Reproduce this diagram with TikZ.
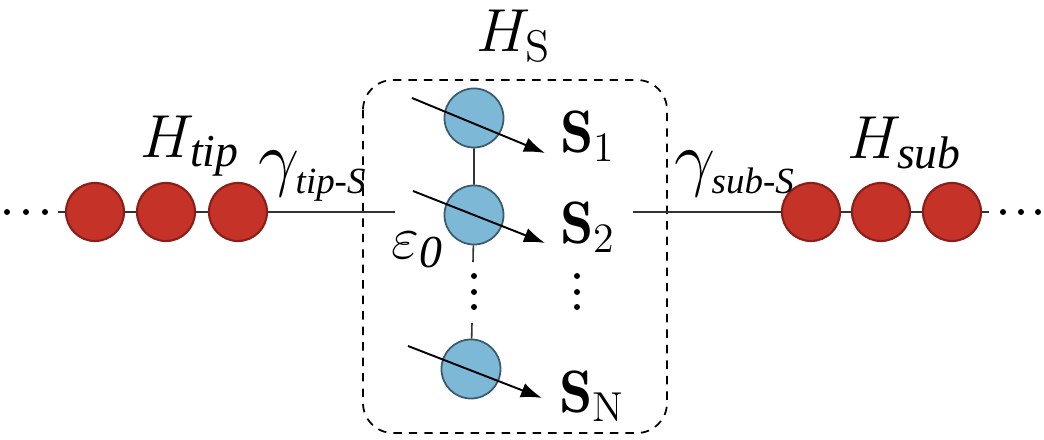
\documentclass[tikz,border=0pt]{standalone}
\usepackage{amsmath,amssymb}
\usepackage{fontspec}
\usepackage{tikz}
\usetikzlibrary{arrows.meta}
\newfontfamily\subfont{Liberation Serif}
\definecolor{siteRed}{RGB}{196,50,40}
\definecolor{siteRedEdge}{RGB}{140,30,25}
\definecolor{spinBlue}{RGB}{125,185,215}
\definecolor{spinBlueEdge}{RGB}{60,90,110}
% italic text subscript at a fixed size
\newcommand{\subtxt}[2]{\text{\fontsize{#1}{#1}\subfont\itshape #2}}

\begin{document}
\begin{tikzpicture}[x=0.01cm, y=-0.01cm,
  redsite/.style={circle, draw=siteRedEdge, fill=siteRed, line width=0.6pt,
    minimum size=0.58cm, inner sep=0pt},
  bluesite/.style={circle, draw=spinBlueEdge, fill=spinBlue, line width=0.5pt,
    minimum size=0.59cm, inner sep=0pt},
  spinarrow/.style={-{Latex[length=2.1mm,width=1.5mm]}, line width=0.55pt},
  bond/.style={line width=0.45pt, black!80},
  bigmath/.style={font=\fontsize{18}{20}\selectfont, inner sep=0pt},
  gammalab/.style={font=\fontsize{21}{23}\selectfont, inner sep=0pt},
  spinlab/.style={font=\fontsize{17}{19}\selectfont}]
  % frame of the picture
  \useasboundingbox (0,0) rectangle (1044,440);

  % Spin region (dashed box)
  \draw[dash pattern=on 2.4pt off 2pt, line width=0.5pt, rounded corners=0.3cm]
    (363,80) rectangle (667,433);
  \node[bigmath] (HS) at (514,36) {$H_{\mathrm{S}}$};

  % Tip chain
  \node[redsite] (t1) at (95,212) {};
  \node[redsite] (t2) at (166,212) {};
  \node[redsite] (t3) at (238,212) {};
  \coordinate (tend) at (58,212);
  \coordinate (tbond) at (395,212);
  \foreach \x [count=\i] in {7,26,45} {
    \fill (\x,212) circle (0.03cm) coordinate (tdot\i);
  }
  \draw[bond] (tend) -- (t1) -- (t2) -- (t3) -- (tbond);
  \node[bigmath, anchor=west] (Htip) at (140,146) {$H_{\subtxt{13}{tip}}$};
  \node[gammalab, anchor=west] (gtip) at (258,176) {$\gamma_{\subtxt{10.5}{tip-S}}$};

  % Substrate chain
  \node[redsite] (b1) at (811,212) {};
  \node[redsite] (b2) at (881,212) {};
  \node[redsite] (b3) at (952,212) {};
  \coordinate (bbond) at (633,212);
  \coordinate (bend) at (989,212);
  \foreach \x [count=\i] in {1003,1021,1038} {
    \fill (\x,212) circle (0.03cm) coordinate (bdot\i);
  }
  \draw[bond] (bbond) -- (b1) -- (b2) -- (b3) -- (bend);
  \node[bigmath, anchor=west] (Hsub) at (847,143) {$H_{\subtxt{13}{sub}}$};
  \node[gammalab, anchor=west] (gsub) at (674,174) {$\gamma_{\subtxt{10.5}{sub-S}}$};

  % Spins
  \node[bluesite] (s1) at (474,118) {};
  \node[bluesite] (s2) at (474,215) {};
  \node[bluesite] (sN) at (471,369) {};
  \coordinate (vtop) at (473,262);
  \coordinate (vbot) at (472,323);
  \draw[bond] (s1) -- (s2) -- (vtop);
  \draw[bond] (vbot) -- (sN);
  \foreach \y [count=\i] in {276,292,307} {
    \fill (474,\y) circle (0.03cm) coordinate (ldot\i);
    \fill (577,\y) circle (0.03cm) coordinate (rdot\i);
  }
  \draw[spinarrow] ([shift={(-62,-20)}]s1.center) -- ([shift={(71,35)}]s1.center);
  \draw[spinarrow] ([shift={(-61,-24)}]s2.center) -- ([shift={(71,28)}]s2.center);
  \draw[spinarrow] ([shift={(-63,-23)}]sN.center) -- ([shift={(71,29)}]sN.center);
  \node[spinlab] (S1) at (588,136) {$\mathbf{S}_{\mathrm{1}}$};
  \node[spinlab] (S2) at (588,227) {$\mathbf{S}_{\mathrm{2}}$};
  \node[spinlab] (SN) at (592,396) {$\mathbf{S}_{\mathrm{N}}$};
  \node[bigmath] (eps) at (418,250) {$\varepsilon_{\subtxt{13}{0}}$};
\end{tikzpicture}
\end{document}
